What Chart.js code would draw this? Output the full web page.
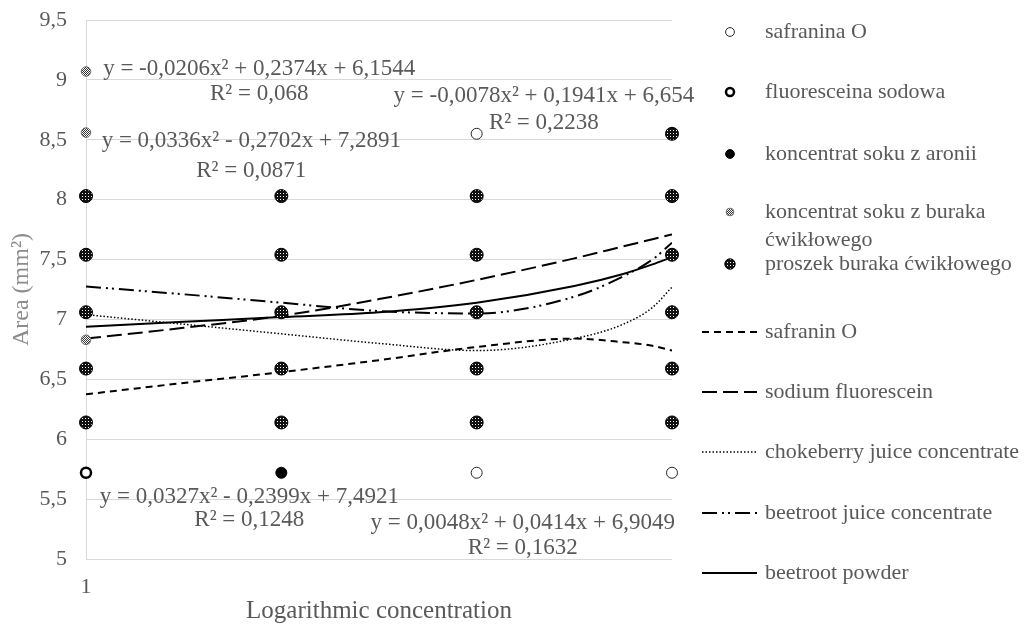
<!DOCTYPE html>
<html>
<head>
<meta charset="utf-8">
<script src="https://cdn.jsdelivr.net/npm/chart.js@4.4.0/dist/chart.umd.min.js"></script>
<style>
    html, body { margin: 0; padding: 0; background: #fff; }
    #wrap { width: 1030px; height: 624px; }
</style>
</head>
<body>
<div id="wrap"><canvas id="area-chart" width="1030" height="624"></canvas></div>
<script>
    "use strict";

    // Measured points (x = concentration step, y = area in mm2)
    var safraninaX = [3, 3, 4];
    var safraninaY = [8.55, 5.72, 5.72];
    var fluoresceinaX = [1];
    var fluoresceinaY = [5.72];
    var aroniiX = [2];
    var aroniiY = [5.72];
    var burakaSokX = [1, 1, 1];
    var burakaSokY = [9.07, 8.56, 6.83];
    var proszekX = [1, 1, 1, 1, 1, 2, 2, 2, 2, 2, 3, 3, 3, 3, 3, 4, 4, 4, 4, 4, 4];
    var proszekY = [8.03, 7.54, 7.06, 6.59, 6.14, 8.03, 7.54, 7.06, 6.59, 6.14,
                    8.03, 7.54, 7.06, 6.59, 6.14, 8.55, 8.03, 7.54, 7.06, 6.59, 6.14];

    // Trend lines at these x steps
    var trendX = [1, 1.5, 2, 2.5, 3, 3.5, 3.75, 3.9, 4];
    var trendSafranin = [6.375, 6.47, 6.56, 6.66, 6.77, 6.84, 6.81, 6.78, 6.74];
    var trendFluorescein = [6.84, 6.93, 7.03, 7.17, 7.33, 7.51, 7.61, 7.67, 7.71];
    var trendChokeberry = [7.04, 6.96, 6.88, 6.80, 6.74, 6.84, 6.96, 7.10, 7.27];
    var trendBeetJuice = [7.275, 7.21, 7.14, 7.07, 7.05, 7.19, 7.36, 7.50, 7.64];
    var trendBeetPowder = [6.94, 6.98, 7.02, 7.06, 7.14, 7.28, 7.38, 7.46, 7.52];

    var yTicks = [5, 5.5, 6, 6.5, 7, 7.5, 8, 8.5, 9, 9.5];

    var pointLabels = ["safranina O", "fluoresceina sodowa", "koncentrat soku z aronii",
                       ["koncentrat soku z buraka", "ćwikłowego"], "proszek buraka ćwikłowego"];
    var lineLabels = ["safranin O", "sodium fluorescein", "chokeberry juice concentrate",
                      "beetroot juice concentrate", "beetroot powder"];

    // Trend line equations [equation, R2, x, y of equation, y of R2]
    var equations = [
        ["y = -0,0206x² + 0,2374x + 6,1544", "R² = 0,068", 1.887, 9.09, 8.88],
        ["y = -0,0078x² + 0,1941x + 6,654", "R² = 0,2238", 3.344, 8.87, 8.64],
        ["y = 0,0336x² - 0,2702x + 7,2891", "R² = 0,0871", 1.846, 8.49, 8.24],
        ["y = 0,0327x² - 0,2399x + 7,4921", "R² = 0,1248", 1.836, 5.52, 5.325],
        ["y = 0,0048x² + 0,0414x + 6,9049", "R² = 0,1632", 3.236, 5.30, 5.09]
    ];

    var SERIF = "'Liberation Serif', 'Times New Roman', serif";
    var TEXT = "#595959";

    function toPoints(xs, ys) {
        return xs.map(function (x, i) { return { x: x, y: ys[i] }; });
    }

    var canvas = document.getElementById("area-chart");
    var ctx = canvas.getContext("2d");

    // dotted fills for the marker styles
    function dotPattern(bg, fg, size) {
        var c = document.createElement("canvas");
        c.width = size; c.height = size;
        var g = c.getContext("2d");
        g.fillStyle = bg; g.fillRect(0, 0, size, size);
        g.fillStyle = fg; g.fillRect(1, 1, 1, 1);
        return ctx.createPattern(c, "repeat");
    }
    function checkPattern(bg, fg) {
        var c = document.createElement("canvas");
        c.width = 2; c.height = 2;
        var g = c.getContext("2d");
        g.fillStyle = bg; g.fillRect(0, 0, 2, 2);
        g.fillStyle = fg; g.fillRect(0, 0, 1, 1); g.fillRect(1, 1, 1, 1);
        return ctx.createPattern(c, "repeat");
    }
    var darkDots = dotPattern("#111111", "#ffffff", 3);
    var lightCheck = checkPattern("#ffffff", "#333333");

    var pointStyles = [
        { bg: "#ffffff", border: "#262626", bw: 1, r: 5.5 },
        { bg: "#ffffff", border: "#000000", bw: 2.5, r: 5 },
        { bg: "#000000", border: "#000000", bw: 1, r: 5.5 },
        { bg: lightCheck, border: "#707070", bw: 1, r: 4.8 },
        { bg: darkDots, border: "#000000", bw: 1, r: 6.5 }
    ];
    var lineStyles = [
        { dash: [7, 5], w: 2 },
        { dash: [15, 6], w: 2 },
        { dash: [1.5, 2], w: 1.5 },
        { dash: [15, 5, 2, 4, 2, 5], w: 2 },
        { dash: [], w: 2 }
    ];

    var pointSets = [
        toPoints(safraninaX, safraninaY),
        toPoints(fluoresceinaX, fluoresceinaY),
        toPoints(aroniiX, aroniiY),
        toPoints(burakaSokX, burakaSokY),
        toPoints(proszekX, proszekY)
    ];
    var trendSets = [trendSafranin, trendFluorescein, trendChokeberry, trendBeetJuice, trendBeetPowder];

    var datasets = [];
    pointSets.forEach(function (pts, i) {
        var s = pointStyles[i];
        datasets.push({
            label: Array.isArray(pointLabels[i]) ? pointLabels[i].join(" ") : pointLabels[i],
            data: pts,
            showLine: false,
            clip: false,
            pointStyle: "circle",
            pointRadius: s.r,
            pointHoverRadius: s.r,
            pointBackgroundColor: s.bg,
            pointBorderColor: s.border,
            pointBorderWidth: s.bw
        });
    });
    trendSets.forEach(function (ys, i) {
        var s = lineStyles[i];
        datasets.push({
            label: lineLabels[i],
            data: toPoints(trendX, ys),
            showLine: true,
            pointRadius: 0,
            borderColor: "#000000",
            borderWidth: s.w,
            borderDash: s.dash,
            cubicInterpolationMode: "monotone",
            fill: false
        });
    });

    // Equations and the legend on the right
    var extrasPlugin = {
        id: "extras",
        afterDatasetsDraw: function (chart) {
            var c = chart.ctx;
            var xs = chart.scales.x, ys = chart.scales.y;
            c.save();
            c.fillStyle = TEXT;
            c.font = "23px " + SERIF;
            c.textAlign = "center";
            c.textBaseline = "middle";
            equations.forEach(function (e) {
                var px = xs.getPixelForValue(e[2]);
                c.fillText(e[0], px, ys.getPixelForValue(e[3]));
                c.fillText(e[1], px, ys.getPixelForValue(e[4]));
            });
            c.restore();
        },
        afterDraw: function (chart) {
            var c = chart.ctx;
            c.save();
            c.font = "22px " + SERIF;
            c.textBaseline = "middle";
            c.textAlign = "left";
            var rowsY = [32, 92, 154, 212, 264];
            pointLabels.forEach(function (lab, i) {
                var s = pointStyles[i];
                c.fillStyle = s.bg;
                c.strokeStyle = s.border;
                c.lineWidth = s.bw;
                Chart.helpers.drawPoint(c, { pointStyle: "circle", radius: s.r * 0.8, rotation: 0, borderWidth: s.bw }, 730, rowsY[i]);
                c.fillStyle = TEXT;
                var lines = Array.isArray(lab) ? lab : [lab];
                lines.forEach(function (t, k) { c.fillText(t, 765, rowsY[i] + k * 28); });
            });
            var lineY = [332, 392, 452, 513, 573];
            lineLabels.forEach(function (lab, i) {
                var s = lineStyles[i];
                c.strokeStyle = "#000000";
                c.lineWidth = s.w;
                c.setLineDash(s.dash);
                c.beginPath();
                c.moveTo(702, lineY[i]);
                c.lineTo(757, lineY[i]);
                c.stroke();
                c.setLineDash([]);
                c.fillStyle = TEXT;
                c.fillText(lab, 765, lineY[i]);
            });
            c.restore();
        }
    };

    new Chart(ctx, {
        type: "scatter",
        data: { datasets: datasets },
        plugins: [extrasPlugin],
        options: {
            responsive: false,
            animation: false,
            layout: { padding: { left: 0, right: 358, top: 20, bottom: 0 } },
            plugins: { legend: { display: false }, tooltip: { enabled: false } },
            scales: {
                x: {
                    type: "linear",
                    min: 1,
                    max: 4,
                    afterFit: function (scale) {
                        scale.height = 65;
                        scale.paddingLeft = 0;
                        scale.paddingRight = 0;
                    },
                    ticks: {
                        stepSize: 1,
                        padding: 15,
                        color: TEXT,
                        font: { family: SERIF, size: 22 },
                        callback: function (v) { return v === 1 ? "1" : ""; }
                    },
                    grid: { display: false, drawTicks: false },
                    border: { display: false },
                    title: {
                        display: true,
                        text: "Logarithmic concentration",
                        color: TEXT,
                        font: { family: SERIF, size: 25, lineHeight: 1 },
                        padding: { top: 0, bottom: 0 }
                    }
                },
                y: {
                    min: 5,
                    max: 9.5,
                    afterFit: function (scale) {
                        scale.width = 86;
                        scale.paddingTop = 0;
                        scale.paddingBottom = 0;
                    },
                    afterBuildTicks: function (scale) {
                        scale.ticks = yTicks.map(function (v) { return { value: v }; });
                    },
                    ticks: {
                        padding: 19,
                        color: TEXT,
                        font: { family: SERIF, size: 22 },
                        callback: function (v) { return String(v).replace(".", ","); }
                    },
                    grid: { color: "#d9d9d9", lineWidth: 1, drawTicks: false },
                    border: { display: true, color: "#d9d9d9" },
                    title: {
                        display: true,
                        text: "Area (mm²)",
                        color: "#8c8c8c",
                        font: { family: SERIF, size: 24, lineHeight: 1 },
                        padding: { top: 10, bottom: 0 }
                    }
                }
            }
        }
    });
</script>
</body>
</html>
